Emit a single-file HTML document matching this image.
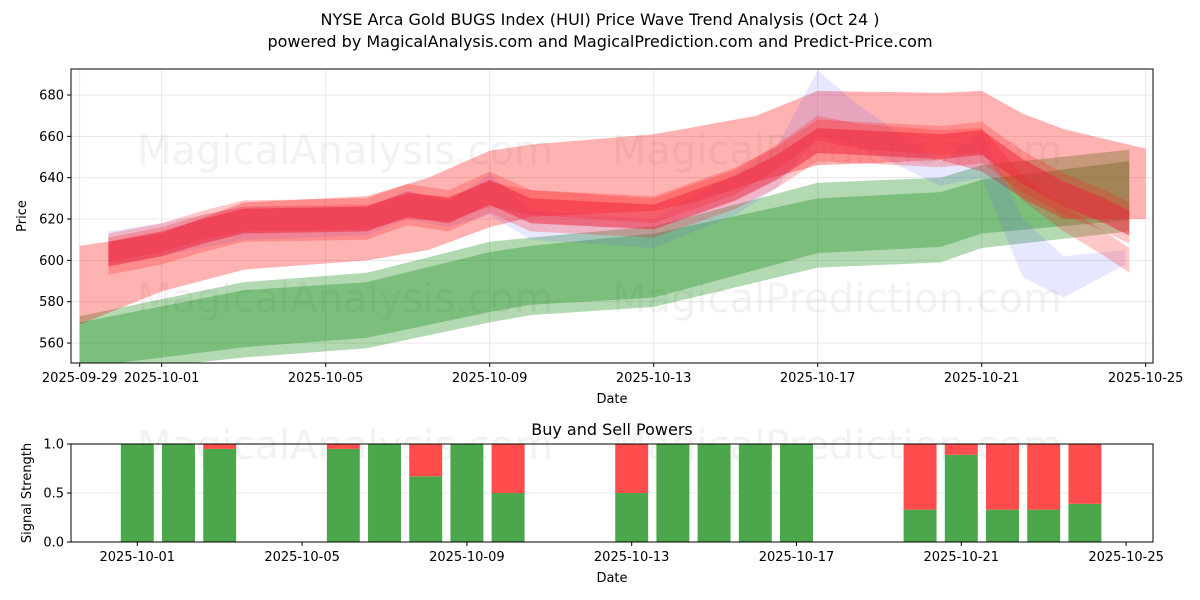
<!DOCTYPE html>
<html><head><meta charset="utf-8"><style>
body{margin:0;background:#fff;}
svg{display:block;font-family:"DejaVu Sans","Liberation Sans",sans-serif;}
</style></head><body>
<svg id="chart" width="1200" height="600" viewBox="0 0 1200 600">
<text x="600" y="25" text-anchor="middle" font-size="16">NYSE Arca Gold BUGS Index (HUI) Price Wave Trend Analysis (Oct 24 )</text>
<text x="600" y="47" text-anchor="middle" font-size="16">powered by MagicalAnalysis.com and MagicalPrediction.com and Predict-Price.com</text>
<text x="612" y="435" text-anchor="middle" font-size="16">Buy and Sell Powers</text>
<text x="26" y="216" text-anchor="middle" font-size="13" transform="rotate(-90 26 216)">Price</text>
<text x="31" y="493" text-anchor="middle" font-size="13" transform="rotate(-90 31 493)">Signal Strength</text>
<text x="612" y="403" text-anchor="middle" font-size="13">Date</text>
<text x="612" y="582" text-anchor="middle" font-size="13">Date</text>
<g id="top"></g>
<g id="bot"></g>
</svg>
<script>
// ---- data (days since 2025-09-29) ----
const tickDays = [0, 2, 6, 10, 14, 18, 22, 26];
const tickLabels = ["2025-09-29","2025-10-01","2025-10-05","2025-10-09","2025-10-13","2025-10-17","2025-10-21","2025-10-25"];
const priceTicks = [560, 580, 600, 620, 640, 660, 680];
const greenDays = [0, 4, 7, 10, 11, 14, 18, 21, 22, 25.6];
const greenOuterTop = [573, 589.5, 594, 609, 611, 616.5, 637.5, 640, 646, 653.5];
const greenOuterBot = [544.5, 553, 557.5, 570, 573.5, 577.5, 596.5, 599, 606, 614];
const greenInnerTop = [570, 585.5, 589.5, 604, 607, 613, 630, 633, 639, 648];
const greenInnerBot = [548, 558, 562.5, 575, 578.5, 582, 603.5, 606.5, 613, 619.5];
const redOuterDays = [0, 2, 4, 7, 8.5, 10, 11, 14, 15, 16.5, 18, 21, 22, 23, 24, 26];
const redOuterTop = [607, 613, 628, 631, 640, 653, 656, 661, 664.5, 670, 682, 681, 682, 671, 663.5, 654];
const redOuterBot = [569, 585, 595.5, 600, 605, 616, 621, 624, 628, 638, 646, 648.5, 643, 630, 620, 620];
const coreDays = [0.7, 2, 3, 4, 7, 8, 9, 10, 11, 14, 16, 17, 18, 19, 21, 22, 23, 24, 25, 25.6];
const coreMid = [603, 608, 614, 619, 620, 627, 624, 633, 624, 621, 635, 645, 658, 657, 655, 657, 643, 632, 624, 618];
const coreMid2 = [605, 610, 616, 620, 621, 626, 625, 632, 628, 624, 638, 650, 664, 660, 657, 658, 635, 620, 608, 600];
const blueDays = [0.7, 2, 4, 7, 8, 9, 10, 11, 14, 16, 17, 18, 19, 21, 22, 23, 24, 25.5];
const blueTop = [614, 618, 626, 626, 634, 628, 642, 624, 620, 642, 655, 692, 675, 648, 662, 620, 602, 605];
const blueBot = [598, 602, 610, 612, 620, 616, 622, 610, 606, 622, 635, 660, 655, 636, 640, 592, 582, 598];
const sigDays = [2, 3, 4, 7, 8, 9, 10, 11, 14, 15, 16, 17, 18, 21, 22, 23, 24, 25];
const buyVals = [1, 1, 0.95, 0.95, 1, 0.67, 1, 0.5, 0.5, 1, 1, 1, 1, 0.33, 0.89, 0.33, 0.33, 0.39];
const sigTicks = [0, 0.5, 1.0];
const sigTickLabels = ["0.0", "0.5", "1.0"];
const sigDateTicks = [2, 6, 10, 14, 18, 22, 26];

const NS = "http://www.w3.org/2000/svg";
const topG = document.getElementById('top'), bot = document.getElementById('bot');
const L = 71, R = 1153, T = 69, B = 363;
const xT = d => 79.7 + d * 41;
const yT = p => 95 + (680 - p) * 2.067;
const xB = d => 137.3 + (d - 2) * 41.2;
const B2T = 444, B2B = 542;
const yB = v => B2B - v * (B2B - B2T);
function mk(tag, attrs, parent) { const e = document.createElementNS(NS, tag); for (const k in attrs) e.setAttribute(k, attrs[k]); parent.appendChild(e); return e; }

const defs = mk('defs', {}, topG);
const cp = mk('clipPath', {id: 'clipTop'}, defs);
mk('rect', {x: L, y: T, width: R - L, height: B - T}, cp);

tickDays.forEach((d, i) => {
  const g = mk('line', {x1: xT(d), x2: xT(d), y1: T, y2: B, stroke: '#e3e3e3', 'stroke-width': 0.8}, topG);
  
  
  const tk = mk('line', {x1: xT(d), x2: xT(d), y1: B, y2: B + 4, stroke: '#000'}, topG);
  
  
  const t = mk('text', {x: xT(d), y: B + 19, 'text-anchor': 'middle', 'font-size': 13}, topG);
  t.textContent = tickLabels[i];
  
  
});
priceTicks.forEach(p => {
  const g = mk('line', {x1: L, x2: R, y1: yT(p), y2: yT(p), stroke: '#e3e3e3', 'stroke-width': 0.8}, topG);
  
  
  const tk = mk('line', {x1: L - 4, x2: L, y1: yT(p), y2: yT(p), stroke: '#000'}, topG);
  
  
  const t = mk('text', {x: L - 7, y: yT(p) + 4.5, 'text-anchor': 'end', 'font-size': 13}, topG);
  t.textContent = p;
  
  
});

[[345, 150, 'MagicalAnalysis.com'], [837, 150, 'MagicalPrediction.com'], [345, 298, 'MagicalAnalysis.com'], [837, 298, 'MagicalPrediction.com']].forEach(w => {
  const t = mk('text', {x: w[0], y: w[1] + 14, 'text-anchor': 'middle', 'font-size': 40, fill: '#999', 'fill-opacity': 0.13}, topG);
  t.textContent = w[2];
  
  
});

const bands = mk('g', {'clip-path': 'url(#clipTop)'}, topG);
function bandPath(days, hi, lo) {
  let s = '';
  days.forEach((d, i) => { s += (i ? 'L' : 'M') + xT(d).toFixed(1) + ' ' + yT(hi[i]).toFixed(1); });
  for (let i = days.length - 1; i >= 0; i--) s += 'L' + xT(days[i]).toFixed(1) + ' ' + yT(lo[i]).toFixed(1);
  return s + 'Z';
}
const off = (arr, k) => arr.map(v => v + k);

let pth;
pth = mk('path', {d: bandPath(greenDays, greenOuterTop, greenOuterBot), fill: '#008000', 'fill-opacity': 0.3}, bands);


pth = mk('path', {d: bandPath(greenDays, greenInnerTop, greenInnerBot), fill: '#008000', 'fill-opacity': 0.3}, bands);


pth = mk('path', {d: bandPath(redOuterDays, redOuterTop, redOuterBot), fill: '#ff0000', 'fill-opacity': 0.3}, bands);


pth = mk('path', {d: bandPath(blueDays, blueTop, blueBot), fill: '#6060ff', 'fill-opacity': 0.15}, bands);


pth = mk('path', {d: bandPath(coreDays, off(coreMid2, 6), off(coreMid2, -6)), fill: '#ff2020', 'fill-opacity': 0.25}, bands);


pth = mk('path', {d: bandPath(coreDays, off(coreMid, 10), off(coreMid, -10)), fill: '#ff2020', 'fill-opacity': 0.25}, bands);


pth = mk('path', {d: bandPath(coreDays, off(coreMid, 6), off(coreMid, -6)), fill: '#f0203a', 'fill-opacity': 0.5}, bands);



const fr = mk('rect', {x: L, y: T, width: R - L, height: B - T, fill: 'none', stroke: '#000', 'stroke-width': 1}, topG);



sigTicks.forEach((v, i) => {
  const g = mk('line', {x1: L, x2: R, y1: yB(v), y2: yB(v), stroke: '#e3e3e3', 'stroke-width': 0.8}, bot);
  
  
  const tk = mk('line', {x1: L - 4, x2: L, y1: yB(v), y2: yB(v), stroke: '#000'}, bot);
  
  
  const t = mk('text', {x: L - 7, y: yB(v) + 4.5, 'text-anchor': 'end', 'font-size': 13}, bot);
  t.textContent = sigTickLabels[i];
  
  
});
[[345, 445, 'MagicalAnalysis.com'], [837, 445, 'MagicalPrediction.com']].forEach(w => {
  const t = mk('text', {x: w[0], y: w[1] + 14, 'text-anchor': 'middle', 'font-size': 40, fill: '#999', 'fill-opacity': 0.13}, bot);
  t.textContent = w[2];
  
  
});
const bw = 0.8 * 41.2;
sigDays.forEach((d, i) => {
  const v = buyVals[i];
  const g = mk('rect', {x: xB(d) - bw / 2, y: yB(v), width: bw, height: yB(0) - yB(v), fill: '#4ca64c'}, bot);
  
  
  if (v < 1) {
    const r = mk('rect', {x: xB(d) - bw / 2, y: yB(1), width: bw, height: yB(v) - yB(1), fill: '#ff4c4c'}, bot);
    
    
  }
});
sigDateTicks.forEach(d => {
  const tk = mk('line', {x1: xB(d), x2: xB(d), y1: B2B, y2: B2B + 4, stroke: '#000'}, bot);
  
  
  const t = mk('text', {x: xB(d), y: B2B + 19, 'text-anchor': 'middle', 'font-size': 13}, bot);
  t.textContent = tickLabels[tickDays.indexOf(d)];
  
  
});
const fr2 = mk('rect', {x: L, y: B2T, width: R - L, height: B2B - B2T, fill: 'none', stroke: '#000', 'stroke-width': 1}, bot);


</script>
</body></html>
